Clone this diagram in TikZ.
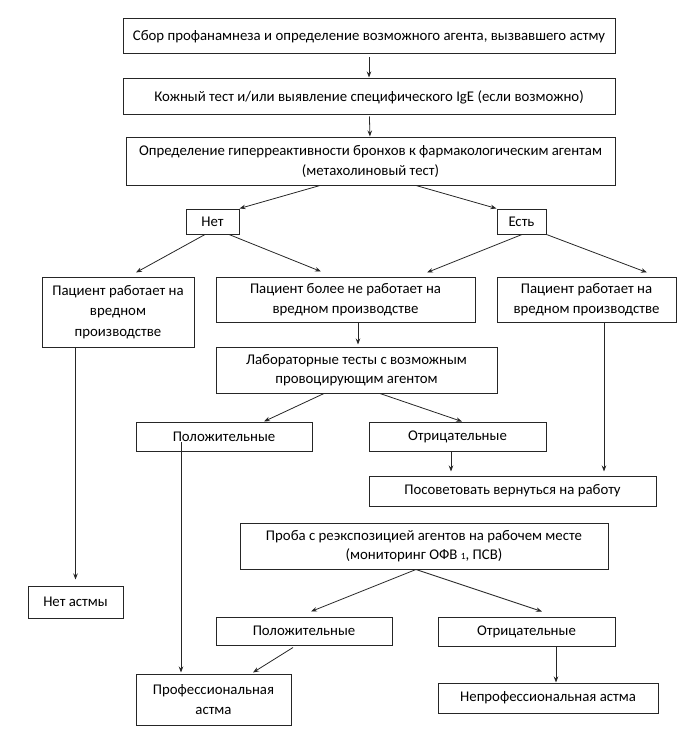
\documentclass[tikz,border=0pt]{standalone}
\usepackage{fontspec}
\setmainfont{Carlito}
\usetikzlibrary{arrows.meta}
\begin{document}
\begin{tikzpicture}[x=1pt,y=-1pt,
  box/.style={draw=black!85,line width=1pt,align=center,inner sep=0pt,
    font=\fontsize{14.8}{19.5}\selectfont},
  arr/.style={draw=black!85,line width=0.8pt,-{Stealth[length=6pt,width=4.5pt]}},
  ln/.style={draw=black!85,line width=0.8pt}]
\useasboundingbox (0,0) rectangle (696,738);
\node[box,minimum width=492pt,minimum height=35pt] (b1) at (369,36.5) {Сбор профанамнеза и определение возможного агента, вызвавшего астму};
\node[box,minimum width=492pt,minimum height=36pt] (b2) at (369,97) {Кожный тест и/или выявление специфического IgE (если возможно)};
\node[box,minimum width=489pt,minimum height=47pt] (b3) at (370.5,161.5) {Определение гиперреактивности бронхов к фармакологическим агентам\\(метахолиновый тест)};
\node[box,minimum width=53pt,minimum height=25pt] (net) at (212.5,221.5) {Нет};
\node[box,minimum width=49pt,minimum height=25pt] (est) at (521.5,221.5) {Есть};
\node[box,minimum width=152pt,minimum height=70pt,font=\fontsize{14.8}{20.7}\selectfont] (patL) at (118,312) {Пациент работает на\\вредном\\производстве};
\node[box,minimum width=259pt,minimum height=45pt] (patM) at (345.5,299.5) {Пациент более не работает на\\вредном производстве};
\node[box,minimum width=179pt,minimum height=45pt] (patR) at (586.5,299.5) {Пациент работает на\\вредном производстве};
\node[box,minimum width=281pt,minimum height=46pt] (lab) at (356.5,370) {Лабораторные тесты с возможным\\провоцирующим агентом};
\node[box,minimum width=176pt,minimum height=29pt] (pos1) at (224,436.5) {Положительные};
\node[box,minimum width=177pt,minimum height=29pt] (neg1) at (457.5,436.5) {Отрицательные};
\node[box,minimum width=287pt,minimum height=30pt] (adv) at (512.5,491) {Посоветовать вернуться на работу};
\node[box,minimum width=368pt,minimum height=46pt] (proba) at (424,546) {Проба с реэкспозицией агентов на рабочем месте\\(мониторинг ОФВ {\fontsize{9.5}{10}\selectfont 1}, ПСВ)};
\node[box,minimum width=95pt,minimum height=32pt] (noasth) at (75.5,602) {Нет астмы};
\node[box,minimum width=176pt,minimum height=28pt] (pos2) at (304,631) {Положительные};
\node[box,minimum width=177pt,minimum height=29pt] (neg2) at (526.5,631.5) {Отрицательные};
\node[box,minimum width=155pt,minimum height=51pt] (prof) at (213.5,699.5) {Профессиональная\\астма};
\node[box,minimum width=220pt,minimum height=30pt] (nonprof) at (548,698) {Непрофессиональная астма};
% connectors
\draw[arr,shorten <=3pt,shorten >=1pt] (b1) -- (b2);
\draw[arr,shorten <=1pt,shorten >=1pt] (b2) -- (b3);
\draw[arr] ([xshift=-50.5pt]b3.south) -- (net.north east);
\draw[arr] ([xshift=45.5pt]b3.south) -- (est.north west);
\draw[arr] ([xshift=-7.5pt]net.south) -- ([xshift=18pt,yshift=4pt]patL.north);
\draw[arr] ([xshift=16.5pt]net.south) -- ([xshift=-24.5pt,yshift=5pt]patM.north);
\draw[arr] ([xshift=0.5pt]est.south) -- ([xshift=81.5pt,yshift=4pt]patM.north);
\draw[arr] (est.south east) -- ([xshift=60.5pt,yshift=4pt]patR.north);
\draw[arr,shorten >=2pt] ([xshift=12.5pt]patM.south) -- ([xshift=12.5pt]patM.south |- lab.north);
\draw[arr] ([xshift=-32.5pt]lab.south) -- ([xshift=40pt]pos1.north);
\draw[arr] ([xshift=23.5pt]lab.south) -- ([xshift=4.5pt]neg1.north);
\coordinate (rdown) at ([xshift=17.5pt]patR.south);
\draw[arr,shorten >=4pt] (rdown) -- (rdown |- adv.north);
\coordinate (ndown) at ([xshift=-6.5pt]neg1.south);
\draw[arr,shorten >=4pt] (ndown) -- (ndown |- adv.north);
\draw[arr,shorten >=6pt] (noasth.north |- patL.south) -- (noasth.north);
\coordinate (pdown) at ([xshift=-43pt,yshift=-5.5pt]pos1.center);
\draw[arr,shorten >=1pt] (pdown) -- (pdown |- prof.north);
\draw[arr] ([xshift=-8pt]proba.south) -- ([xshift=7pt,yshift=5pt]pos2.north);
\draw[arr] ([xshift=-8pt]proba.south) -- ([xshift=15.5pt,yshift=5pt]neg2.north);
\draw[arr] ([xshift=-11pt,yshift=-2pt]pos2.south) -- ([xshift=39.5pt,yshift=1pt]prof.north);
\coordinate (n2down) at ([xshift=29.5pt]neg2.south);
\draw[arr] (n2down) -- (n2down |- nonprof.north);
\end{tikzpicture}
\end{document}
